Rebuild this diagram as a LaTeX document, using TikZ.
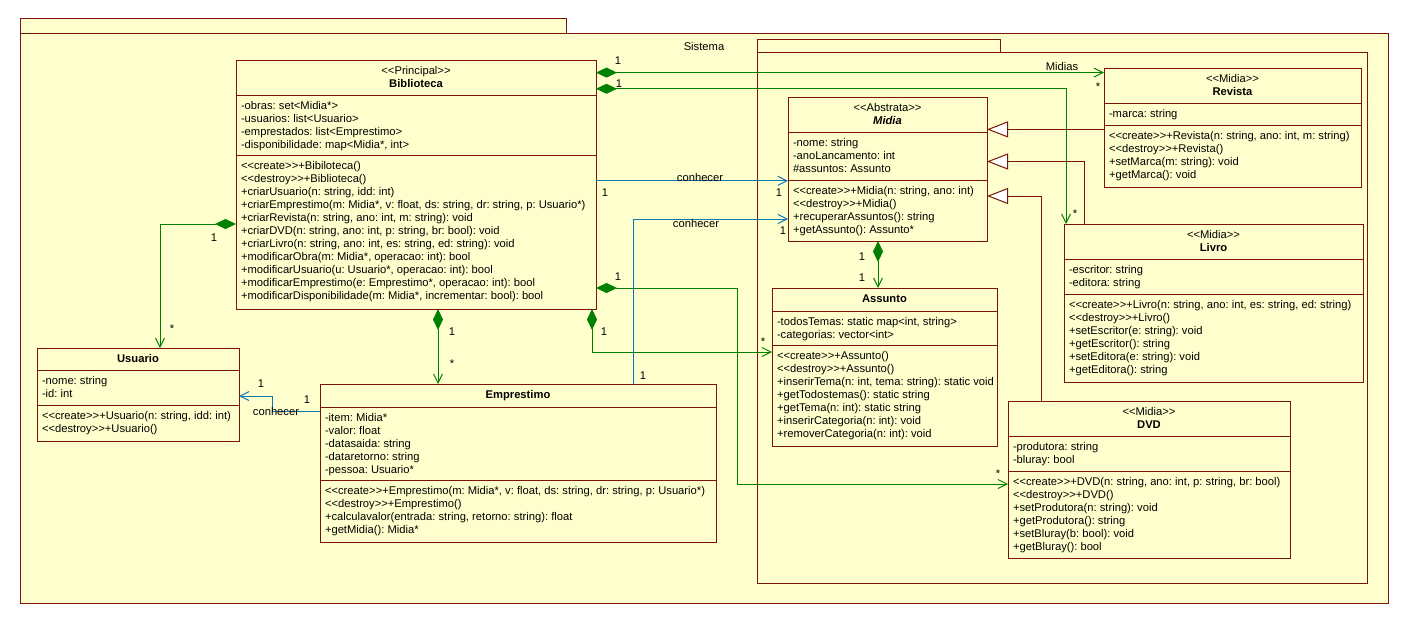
\documentclass[tikz,border=0pt]{standalone}
\usepackage{fontspec}
\newfontfamily\umlfont{Liberation Sans}
\usetikzlibrary{arrows.meta,calc}
\frenchspacing

\definecolor{umlfill}{RGB}{255,255,206}
\definecolor{umlborder}{RGB}{122,20,10}
\definecolor{assocgreen}{RGB}{0,128,0}
\definecolor{linkblue}{RGB}{16,120,176}

\tikzset{
  member/.style={font={\umlfont\fontsize{11.2}{13}\selectfont}, inner sep=0pt, outer sep=0pt, text=black},
  memberbold/.style={member, font={\umlfont\fontsize{11.2}{13}\selectfont\bfseries}},
  classbox/.style={rectangle, draw=umlborder, fill=umlfill, line width=1pt, inner sep=0pt, outer sep=0pt},
  border/.style={draw=umlborder, line width=1pt},
  pkg/.style={draw=umlborder, fill=umlfill, line width=1pt},
  comp/.style={draw=assocgreen, line width=1pt, {Diamond[length=21pt,width=10pt]}-{Straight Barb[length=9pt,width=9pt]}},
  link/.style={draw=linkblue, line width=1pt, -{Straight Barb[length=9pt,width=9pt]}},
  gen/.style={draw=umlborder, line width=1pt, -{Triangle[length=21pt,width=16pt,fill=white]}},
  mult/.style={member}
}

% class frame: name, left, top, right, header bottom, attribute bottom, bottom
\newcommand\umlbox[7]{%
  \def\curname{#1}\def\curleft{#2}\def\curhead{#3}\def\curright{#4}%
  \def\curattr{#5}\def\curops{#6}%
  \node[classbox, anchor=north west, minimum width={#4-#2}, minimum height={#7-#3}] (#1) at (#2,#3) {};
  \draw[border] (#2,#5) -- (#4,#5) (#2,#6) -- (#4,#6);
}
% two-line header: stereotype and bold title
\newcommand\umlstereo[2]{%
  \node[member, anchor=base] (\curname-st) at ({(\curleft+\curright)/2},{\curhead+14.5}) {<{}<#1>{}>};
  \node[memberbold, anchor=base] (\curname-ti) at ({(\curleft+\curright)/2},{\curhead+27.5}) {#2};
}
% one-line header
\newcommand\umltitle[1]{%
  \node[memberbold, anchor=base] (\curname-ti) at ({(\curleft+\curright)/2},{\curhead+14.5}) {#1};
}
% left aligned member lines of one compartment
\newcommand\umllines[3]{%
  \foreach \mline [count=\k from 0] in {#3}
    \node[member, anchor=base west] (\curname-#1\k) at ({\curleft+5},{#2+14+13*\k}) {\mline};
}
\newcommand\umlattrs[1]{\umllines{a}{\curattr}{#1}}
\newcommand\umlops[1]{\umllines{o}{\curops}{#1}}

\begin{document}
\begin{tikzpicture}[x=1pt,y=-1pt]
\useasboundingbox (0,0) rectangle (1408,624);
\fill[white] (0,0) rectangle (1408,624);

% package Sistema
\draw[pkg] (20,18) rectangle (566,33);
\draw[pkg] (20,33) rectangle (1388,603);
\node[member] (sistema) at (704,46) {Sistema};

% package Midias
\draw[pkg] (757,39) rectangle (1000,52);
\draw[pkg] (757,52) rectangle (1367,583);
\node[member] (midias) at (1062,66) {Midias};

% Biblioteca
\umlbox{bib}{236}{60}{596}{95}{155}{309}
\umlstereo{Principal}{Biblioteca}
\umlattrs{{-obras: set<Midia*>},{-usuarios: list<Usuario>},{-emprestados: list<Emprestimo>},{-disponibilidade: map<Midia*, int>}}
\umlops{{<{}<create>{}>+Bibiloteca()},{<{}<destroy>{}>+Biblioteca()},{+criarUsuario(n: string, idd: int)},{+criarEmprestimo(m: Midia*, v: float, ds: string, dr: string, p: Usuario*)},{+criarRevista(n: string, ano: int, m: string): void},{+criarDVD(n: string, ano: int, p: string, br: bool): void},{+criarLivro(n: string, ano: int, es: string, ed: string): void},{+modificarObra(m: Midia*, operacao: int): bool},{+modificarUsuario(u: Usuario*, operacao: int): bool},{+modificarEmprestimo(e: Emprestimo*, operacao: int): bool},{+modificarDisponibilidade(m: Midia*, incrementar: bool): bool}}

% Midia
\umlbox{midia}{788}{97}{987}{132}{180}{241}
\umlstereo{Abstrata}{\itshape Midia}
\umlattrs{{-nome: string},{-anoLancamento: int},{\#assuntos: Assunto}}
\umlops{{<{}<create>{}>+Midia(n: string, ano: int)},{<{}<destroy>{}>+Midia()},{+recuperarAssuntos(): string},{+getAssunto(): Assunto*}}

% Revista
\umlbox{rev}{1104}{68}{1361}{103}{125}{187}
\umlstereo{Midia}{Revista}
\umlattrs{{-marca: string}}
\umlops{{<{}<create>{}>+Revista(n: string, ano: int, m: string)},{<{}<destroy>{}>+Revista()},{+setMarca(m: string): void},{+getMarca(): void}}

% Livro
\umlbox{livro}{1064}{224}{1363}{259}{294}{382}
\umlstereo{Midia}{Livro}
\umlattrs{{-escritor: string},{-editora: string}}
\umlops{{<{}<create>{}>+Livro(n: string, ano: int, es: string, ed: string)},{<{}<destroy>{}>+Livro()},{+setEscritor(e: string): void},{+getEscritor(): string},{+setEditora(e: string): void},{+getEditora(): string}}

% Assunto
\umlbox{ass}{772}{288}{997}{311}{345}{446}
\umltitle{Assunto}
\umlattrs{{-todosTemas: static map<int, string>},{-categorias: vector<int>}}
\umlops{{<{}<create>{}>+Assunto()},{<{}<destroy>{}>+Assunto()},{+inserirTema(n: int, tema: string): static void},{+getTodostemas(): static string},{+getTema(n: int): static string},{+inserirCategoria(n: int): void},{+removerCategoria(n: int): void}}

% DVD
\umlbox{dvd}{1008}{401}{1290}{436}{471}{558}
\umlstereo{Midia}{DVD}
\umlattrs{{-produtora: string},{-bluray: bool}}
\umlops{{<{}<create>{}>+DVD(n: string, ano: int, p: string, br: bool)},{<{}<destroy>{}>+DVD()},{+setProdutora(n: string): void},{+getProdutora(): string},{+setBluray(b: bool): void},{+getBluray(): bool}}

% Usuario
\umlbox{usr}{37}{348}{239}{370}{405}{441}
\umltitle{Usuario}
\umlattrs{{-nome: string},{-id: int}}
\umlops{{<{}<create>{}>+Usuario(n: string, idd: int)},{<{}<destroy>{}>+Usuario()}}

% Emprestimo
\umlbox{emp}{320}{384}{716}{407}{480}{542}
\umltitle{Emprestimo}
\umlattrs{{-item: Midia*},{-valor: float},{-datasaida: string},{-dataretorno: string},{-pessoa: Usuario*}}
\umlops{{<{}<create>{}>+Emprestimo(m: Midia*, v: float, ds: string, dr: string, p: Usuario*)},{<{}<destroy>{}>+Emprestimo()},{+calculavalor(entrada: string, retorno: string): float},{+getMidia(): Midia*}}

% compositions owned by Biblioteca
\draw[comp] ($(bib.north east)+(0,12.6)$) -- ($(rev.north west)+(0,4.6)$);
\node[mult] (m1a) at (618,61) {1};
\node[mult] (m1b) at (1098,87) {*};

\draw[comp] ($(bib.north east)+(0,28.8)$) -| ($(livro.north west)+(2,0)$);
\node[mult] (m2a) at (619,84) {1};
\node[mult] (m2b) at (1075,214) {*};

\draw[comp] ($(bib.north west)+(0,164)$) -| ($(usr.north west)+(123,0)$);
\node[mult] (m6a) at (214,238) {1};
\node[mult] (m6b) at (172,329) {*};

\draw[comp] ($(bib.south west)+(202,0)$) -- ($(emp.north west)+(118,0)$);
\node[mult] (m7a) at (452,332) {1};
\node[mult] (m7b) at (452,364) {*};

\draw[comp] ($(bib.north east)+(0,228)$) -| ($(dvd.north west)+(-271,83)$) -- ($(dvd.north west)+(0,83)$);
\node[mult] (m8a) at (618,277) {1};
\node[mult] (m8b) at (998,474) {*};

\draw[comp] ($(bib.south east)+(-4,0)$) |- ($(ass.north west)+(0,64)$);
\node[mult] (m9a) at (604,332) {1};
\node[mult] (m9b) at (763,342) {*};

% Midia owns its Assunto
\draw[comp] ($(midia.south west)+(90,0)$) -- ($(ass.north west)+(106,0)$);
\node[mult] (m10a) at (862,257) {1};
\node[mult] (m10b) at (862,278) {1};

% "conhecer" links
\draw[link] ($(bib.north east)+(0,120.8)$) -- ($(midia.north west)+(0,83.8)$);
\node[member] (k3) at (700,177) {conhecer};
\node[mult] (m3a) at (605,193) {1};
\node[mult] (m3b) at (779,193) {1};

\draw[link] ($(emp.north west)+(313,0)$) |- ($(midia.north west)+(0,122)$);
\node[member] (k4) at (696,223) {conhecer};
\node[mult] (m4a) at (643,376) {1};
\node[mult] (m4b) at (783,231) {1};

\draw[link] ($(emp.north west)+(0,27)$) -| ($(usr.north east)+(33,48)$) -- ($(usr.north east)+(0,48)$);
\node[member] (k5) at (276,411) {conhecer};
\node[mult] (m5a) at (261,384) {1};
\node[mult] (m5b) at (307,400) {1};

% generalizations towards Midia
\draw[gen] ($(rev.north west)+(0,61.4)$) -- ($(midia.north east)+(0,32.4)$);
\draw[gen] ($(livro.north west)+(20,0)$) |- ($(midia.north east)+(0,64.5)$);
\draw[gen] ($(dvd.north west)+(33,0)$) |- ($(midia.north east)+(0,99)$);
\end{tikzpicture}
\end{document}
